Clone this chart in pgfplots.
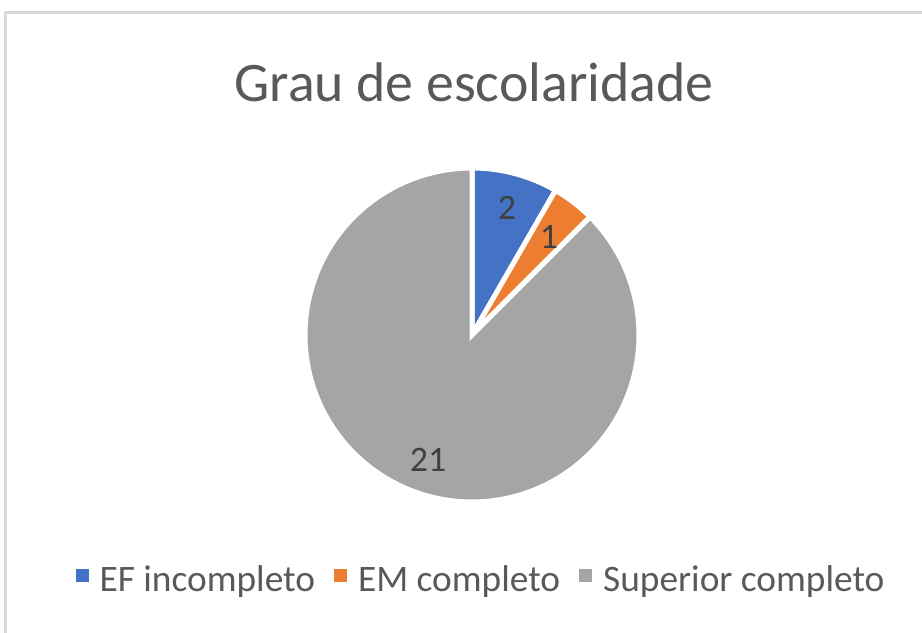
\documentclass[border=0pt]{standalone}
\usepackage{pgfplots}
\pgfplotsset{compat=1.18}
\usepackage{fontspec}
\setmainfont{Carlito}
\definecolor{cblue}{HTML}{4472C4}
\definecolor{corange}{HTML}{ED7D31}
\definecolor{cgray}{HTML}{A5A5A5}
\definecolor{ctitle}{HTML}{595959}
\definecolor{clabel}{HTML}{404040}
\definecolor{cborder}{HTML}{D9D9D9}
% data
\def\vA{2}\def\vB{1}\def\vC{21}
\pgfmathsetmacro\tot{\vA+\vB+\vC}
\pgfmathsetmacro\aO{90}
\pgfmathsetmacro\aA{90-360*\vA/\tot}
\pgfmathsetmacro\aB{\aA-360*\vB/\tot}
\pgfmathsetmacro\aC{\aB-360*\vC/\tot}
\def\cx{472}\def\cy{298}\def\R{167}
\begin{document}
\begin{tikzpicture}
\begin{axis}[
  width=922bp, height=633bp, scale only axis,
  xmin=0, xmax=922, ymin=0, ymax=633,
  hide axis, clip=true,
  legend columns=3,
  legend style={at={(axis cs:481,54)}, anchor=center, draw=none, fill=none,
    font=\fontsize{37.5}{40}\selectfont\color{ctitle},
    /tikz/every odd column/.append style={column sep=9bp},
    /tikz/every even column/.append style={column sep=17bp}},
  legend image code/.code={\fill[#1,draw=none] (0bp,-3bp) rectangle (13bp,10bp);},
]
\path (axis cs:0,0) rectangle (axis cs:922,633);
\draw[cborder, line width=3bp] (axis cs:5,0) -- (axis cs:5,620) -- (axis cs:922,620);
\addplot[fill=cblue, draw=white, line width=5bp, domain=\aA:\aO, samples=40, variable=\t]
  ({\cx+\R*cos(t)},{\cy+\R*sin(t)}) -- (axis cs:\cx,\cy) -- cycle;
\addlegendentry{EF incompleto}
\addplot[fill=corange, draw=white, line width=5bp, domain=\aB:\aA, samples=20, variable=\t]
  ({\cx+\R*cos(t)},{\cy+\R*sin(t)}) -- (axis cs:\cx,\cy) -- cycle;
\addlegendentry{EM completo}
\addplot[fill=cgray, draw=white, line width=5bp, domain=\aC:\aB, samples=200, variable=\t]
  ({\cx+\R*cos(t)},{\cy+\R*sin(t)}) -- (axis cs:\cx,\cy) -- cycle;
\addlegendentry{Superior completo}
\node[anchor=base, text=ctitle, font=\fontsize{56}{60}\selectfont] at (axis cs:474,531) {Grau de escolaridade};
\node[text=clabel, font=\fontsize{36}{40}\selectfont] at (axis cs:507,425) {\vA};
\node[text=clabel, font=\fontsize{36}{40}\selectfont] at (axis cs:549,396) {\vB};
\node[text=clabel, font=\fontsize{36}{40}\selectfont] at (axis cs:428,173) {\vC};
\end{axis}
\end{tikzpicture}
\end{document}
